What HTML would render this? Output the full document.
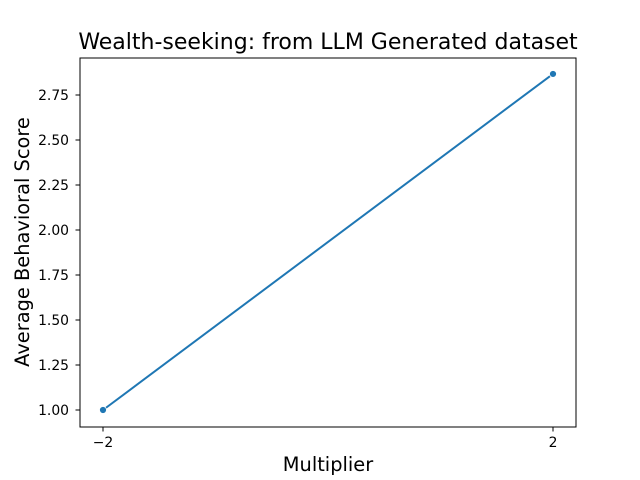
<!DOCTYPE html>
<html><head><meta charset="utf-8"><style>
body{margin:0;background:#fff;}
svg{display:block;font-family:"DejaVu Sans","Liberation Sans",sans-serif;}
</style></head><body>
<svg id="chart" width="640" height="480">
<text x="328" y="49" font-size="22" text-anchor="middle">Wealth-seeking: from LLM Generated dataset</text>
<rect x="80" y="58" width="496" height="369" fill="none" stroke="#000" stroke-width="1"/>
<g id="xt"></g>
<g id="yt"></g>
<text x="328" y="471" font-size="19.4" text-anchor="middle">Multiplier</text>
<text transform="translate(29,242) rotate(-90)" font-size="19.4" text-anchor="middle">Average Behavioral Score</text>
<g id="series"></g>
</svg>
<script>
const xValues = [-2, 2];
const yValues = [1.0, 2.867];
const xTicks = [-2, 2];
const xTickLabels = ["\u22122", "2"];
const yTicks = [1.00, 1.25, 1.50, 1.75, 2.00, 2.25, 2.50, 2.75];

const NS = "http://www.w3.org/2000/svg";
function sx(v){ return 103 + (v + 2) * 112.5; }
function sy(v){ return 410 - (v - 1) * 180; }
function mk(tag, attrs, parent){ const e=document.createElementNS(NS,tag); for(const k in attrs) e.setAttribute(k,attrs[k]); parent.appendChild(e); return e; }

const xt=document.getElementById('xt');
xTicks.forEach((t,i)=>{
  const l=mk('line',{x1:sx(t),x2:sx(t),y1:427,y2:431.5,stroke:'#000'},xt);
  
  
  const tx=mk('text',{x:sx(t),y:447,'font-size':13.9,'text-anchor':'middle'},xt);
  tx.textContent=xTickLabels[i];
  
  
});
const yt=document.getElementById('yt');
yTicks.forEach(t=>{
  const l=mk('line',{x1:75.5,x2:80,y1:sy(t),y2:sy(t),stroke:'#000'},yt);
  
  
  const tx=mk('text',{x:69,y:sy(t)+5,'font-size':13.9,'text-anchor':'end'},yt);
  tx.textContent=t.toFixed(2);
  
  
});
const s=document.getElementById('series');
const pts=xValues.map((x,i)=>sx(x)+','+sy(yValues[i])).join(' ');
const pl=mk('polyline',{points:pts,fill:'none',stroke:'#1f77b4','stroke-width':2},s);


xValues.forEach((x,i)=>{
  const c=mk('circle',{cx:sx(x),cy:sy(yValues[i]),r:3.5,fill:'#1f77b4',stroke:'#fff','stroke-width':0.8},s);
  
  
});
</script>
</body></html>
